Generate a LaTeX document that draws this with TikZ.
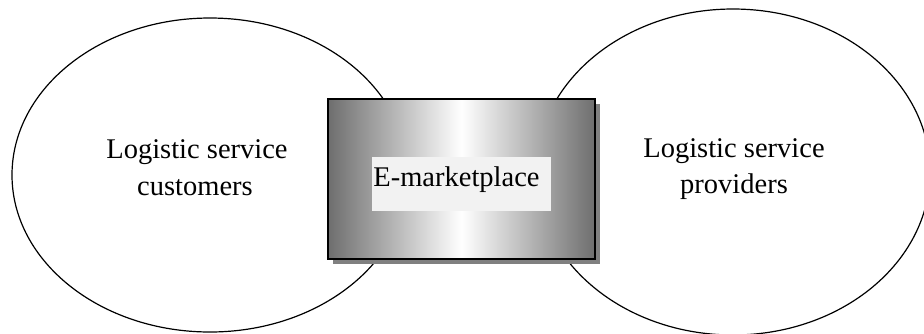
\documentclass[tikz,border=0pt]{standalone}
\usepackage{fontspec}
\setmainfont{Liberation Serif}
\usetikzlibrary{shapes.geometric,shadows}
\definecolor{edgegray}{RGB}{110,110,110}
\definecolor{shadowgray}{RGB}{128,128,128}
\definecolor{labelgray}{RGB}{242,242,242}
\begin{document}
\begin{tikzpicture}[x=0.5pt,y=-0.5pt,
  group/.style={draw=black,line width=0.6pt,ellipse,inner sep=0pt},
  caption/.style={inner sep=0pt,anchor=base,font=\fontsize{14.25}{18}\selectfont},
  market/.style={draw=black,line width=0.9pt,rectangle,inner sep=0pt,
    left color=edgegray,right color=edgegray,middle color=white,
    drop shadow={shadow xshift=2.6pt,shadow yshift=-2.6pt,fill=shadowgray,opacity=1}}]
  \useasboundingbox (0,0) rectangle (924,333);
  \clip (0,0) rectangle (924,333);
  % the two groups of participants
  \node[group,minimum width=198pt,minimum height=157pt] (cust) at (210,175) {};
  \node[group,minimum width=197pt,minimum height=163pt] (prov) at (733,172) {};
  \node[caption] (custA) at (197,158) {Logistic service};
  \node[caption] (custB) at (195,195) {customers};
  \node[caption] (provA) at (734,157) {Logistic service};
  \node[caption] (provB) at (734,193) {providers};
  % the marketplace in the middle
  \node[market,minimum width=133.5pt,minimum height=80pt] (mkt) at (461.5,179) {};
  \node[fill=labelgray,inner sep=0pt,minimum width=89.5pt,minimum height=27pt] (lbl) at (461.5,184) {};
  \node[caption,anchor=base west] (lbltext) at (373,186) {E-marketplace};
\end{tikzpicture}
\end{document}
